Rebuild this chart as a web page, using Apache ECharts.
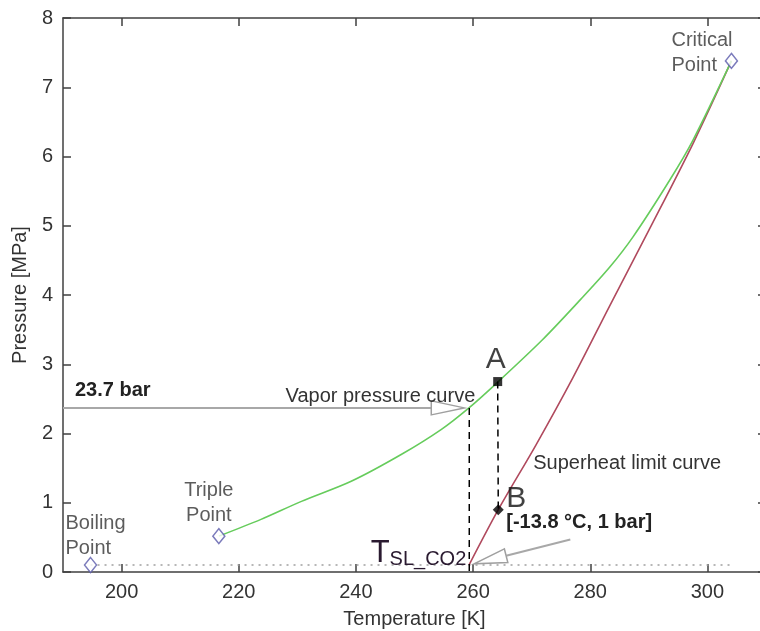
<!DOCTYPE html>
<html>
<head>
<meta charset="utf-8">
<script src="https://cdn.jsdelivr.net/npm/echarts@6/dist/echarts.min.js"></script>
<style>
  html, body { margin: 0; padding: 0; background: #fff; }
  #chart { width: 760px; height: 631px; }
</style>
</head>
<body>
<div id="chart"></div>
<script>
// CO2 phase diagram: vapor pressure curve and superheat limit curve

const xTicks = [200, 220, 240, 260, 280, 300];
const yTicks = [0, 1, 2, 3, 4, 5, 6, 7, 8];

// Vapor pressure curve (triple point -> critical point), T in K, p in MPa
const vaporT = [216.6, 223.8, 230.7, 239.2, 247.8, 254.6, 259.3, 263.8, 271.8, 278.4, 283.3, 287.3, 293.5, 297.5, 304.1];
const vaporP = [0.518, 0.76, 1.02, 1.31, 1.70, 2.06, 2.37, 2.71, 3.35, 3.94, 4.40, 4.84, 5.65, 6.23, 7.38];

// Superheat limit curve
const superheatT = [259.3, 264.3, 270.7, 277.0, 283.3, 290.1, 297.5, 304.1];
const superheatP = [0.10, 0.90, 1.83, 2.80, 3.84, 4.95, 6.18, 7.38];

// Characteristic points
const pointNames = ['Boiling\nPoint', 'Triple\nPoint', 'Critical\nPoint'];
const pointT = [194.7, 216.6, 304.1];
const pointP = [0.101, 0.518, 7.38];

// Expansion path A -> B
const stateA = [264.2, 2.75];
const stateB = [264.3, 0.90];

// Superheat limit temperature at ambient pressure (1 bar) and the vapor pressure there
const tslK = 259.35;
const ambientMPa = 0.1;
const vaporAtTslMPa = 2.37;
const ambientLineEndT = 304.4;

const TEXT = '#333';
const FONT = '"Liberation Sans", Arial, sans-serif';

const tslC = (tslK - 273.15).toFixed(1);
const vaporBarText = (vaporAtTslMPa * 10).toFixed(1) + ' bar';
const tslText = '[' + tslC + ' °C, ' + Math.round(ambientMPa * 10) + ' bar]';

const zip = (a, b) => a.map((v, i) => [v, b[i]]);

// Hollow-headed arrows: [fromT, fromP, toT, toP]
const arrows = [
  [190, vaporAtTslMPa, tslK, vaporAtTslMPa],
  [276.6, 0.47, tslK, ambientMPa]
];

function renderArrow(params, api) {
  const a = api.coord([api.value(0), api.value(1)]);
  const b = api.coord([api.value(2), api.value(3)]);
  const dx = b[0] - a[0], dy = b[1] - a[1];
  const len = Math.hypot(dx, dy);
  const ux = dx / len, uy = dy / len;
  const gap = 5, headLen = 33, halfW = 7;
  const tip = [b[0] - ux * gap, b[1] - uy * gap];
  const base = [tip[0] - ux * headLen, tip[1] - uy * headLen];
  const nx = -uy, ny = ux;
  return {
    type: 'group',
    children: [
      { type: 'line', shape: { x1: a[0], y1: a[1], x2: base[0], y2: base[1] },
        style: { stroke: '#a8a8a8', lineWidth: 2 } },
      { type: 'polygon', shape: { points: [
          [base[0] + nx * halfW, base[1] + ny * halfW], tip,
          [base[0] - nx * halfW, base[1] - ny * halfW]] },
        style: { stroke: '#a0a0a0', lineWidth: 1.5, fill: '#fff' } }
    ]
  };
}

// Free text annotations anchored to data coordinates
const notes = [
  { at: [190, vaporAtTslMPa], dx: 12, dy: -17, text: vaporBarText, align: 'left', bold: true },
  { at: [tslK, vaporAtTslMPa], dx: 6, dy: -11, text: 'Vapor pressure curve', align: 'right' },
  { at: stateB, dx: 35, dy: -46, text: 'Superheat limit curve', align: 'left' },
  { at: [tslK, ambientMPa], dx: 37, dy: -43, text: tslText, align: 'left', bold: true }
];

function renderNote(params, api) {
  const n = notes[params.dataIndex];
  const p = api.coord([api.value(0), api.value(1)]);
  return {
    type: 'text',
    x: p[0] + n.dx, y: p[1] + n.dy,
    style: {
      text: n.text, fill: n.bold ? '#222' : TEXT,
      font: (n.bold ? 'bold ' : '') + '20px ' + FONT,
      align: n.align, verticalAlign: 'middle'
    }
  };
}

function renderTsl(params, api) {
  const p = api.coord([api.value(0), api.value(1)]);
  return {
    type: 'text',
    x: p[0] - 3, y: p[1] + 4,
    style: {
      text: '{t|T}{s|SL_CO2}',
      align: 'right', verticalAlign: 'bottom',
      rich: {
        t: { font: '31px ' + FONT, fill: '#2a1a30', verticalAlign: 'bottom', lineHeight: 31 },
        s: { font: '20px ' + FONT, fill: '#2a1a30', verticalAlign: 'bottom', lineHeight: 23 }
      }
    }
  };
}

const pointLabelPos = [
  { offset: [-25, -29], align: 'left' },
  { offset: [-10, -33], align: 'center' },
  { offset: [-60, -8], align: 'left' }
];

const axisLineStyle = { color: '#404040', width: 1.5 };

const option = {
  animation: false,
  backgroundColor: '#fff',
  grid: { left: 63, top: 18, width: 703, bottom: 59, containLabel: false, outerBoundsMode: 'none' },
  xAxis: [
    {
      type: 'value', min: 190, max: 310, position: 'bottom',
      name: 'Temperature [K]', nameLocation: 'middle', nameGap: 37,
      nameTextStyle: { fontSize: 20, color: TEXT, fontFamily: FONT },
      axisLine: { onZero: false, lineStyle: axisLineStyle },
      axisTick: { inside: true, length: 8, customValues: xTicks, lineStyle: axisLineStyle },
      axisLabel: { customValues: xTicks, fontSize: 20, color: TEXT, fontFamily: FONT, margin: 10 },
      splitLine: { show: false }
    },
    {
      type: 'value', min: 190, max: 310, position: 'top',
      axisLine: { onZero: false, lineStyle: axisLineStyle },
      axisTick: { inside: true, length: 8, customValues: xTicks, lineStyle: axisLineStyle },
      axisLabel: { show: false },
      splitLine: { show: false }
    }
  ],
  yAxis: [
    {
      type: 'value', min: 0, max: 8, interval: 1, position: 'left',
      name: 'Pressure [MPa]', nameLocation: 'middle', nameGap: 24,
      nameTextStyle: { fontSize: 20, color: TEXT, fontFamily: FONT },
      axisLine: { show: true, onZero: false, lineStyle: axisLineStyle },
      axisTick: { show: true, inside: true, length: 8, customValues: yTicks, lineStyle: axisLineStyle },
      axisLabel: { customValues: yTicks, fontSize: 20, color: TEXT, fontFamily: FONT, margin: 10 },
      splitLine: { show: false }
    },
    {
      type: 'value', min: 0, max: 8, interval: 1, position: 'right',
      axisLine: { show: true, onZero: false, lineStyle: axisLineStyle },
      axisTick: { show: true, inside: true, length: 8, customValues: yTicks, lineStyle: axisLineStyle },
      axisLabel: { show: false },
      splitLine: { show: false }
    }
  ],
  series: [
    {
      name: 'ambient', type: 'line', silent: true, showSymbol: false, z: 1,
      data: [[pointT[0], ambientMPa], [ambientLineEndT, ambientMPa]],
      lineStyle: { color: '#a0a0a0', width: 1.5, type: [2, 5] }
    },
    {
      name: 'Superheat limit curve', type: 'line', showSymbol: false, smooth: 0.3, z: 2,
      data: zip(superheatT, superheatP),
      lineStyle: { color: '#b04a5e', width: 1.6 }
    },
    {
      name: 'Vapor pressure curve', type: 'line', showSymbol: false, smooth: 0.3, z: 3,
      data: zip(vaporT, vaporP),
      lineStyle: { color: '#66cc5c', width: 1.6 }
    },
    {
      name: 'tsl drop', type: 'line', showSymbol: false, z: 4,
      data: [[tslK, vaporAtTslMPa], [tslK, 0]],
      lineStyle: { color: '#000', width: 1.5, type: [7, 5] }
    },
    {
      name: 'A-B', type: 'line', showSymbol: false, z: 4,
      data: [stateA, stateB],
      lineStyle: { color: '#000', width: 1.5, type: [7, 5] }
    },
    {
      name: 'arrows', type: 'custom', z: 5, silent: true,
      renderItem: renderArrow, data: arrows
    },
    {
      name: 'points', type: 'scatter', z: 6,
      symbol: 'diamond', symbolSize: [12, 15],
      itemStyle: { color: '#fff', borderColor: '#5a5aaa', borderWidth: 1.5 },
      data: pointT.map((t, i) => ({
        value: [t, pointP[i]],
        label: {
          show: true, formatter: pointNames[i], position: 'inside',
          offset: pointLabelPos[i].offset, align: pointLabelPos[i].align,
          verticalAlign: 'middle', fontSize: 20, lineHeight: 25,
          color: TEXT, fontFamily: FONT
        }
      }))
    },
    {
      name: 'A', type: 'scatter', z: 7, symbol: 'rect', symbolSize: 9,
      itemStyle: { color: '#000' },
      data: [stateA],
      label: { show: true, formatter: 'A', position: 'inside', offset: [-2, -22],
        fontSize: 30, color: '#111', fontFamily: FONT }
    },
    {
      name: 'B', type: 'scatter', z: 7, symbol: 'diamond', symbolSize: 11,
      itemStyle: { color: '#000' },
      data: [stateB],
      label: { show: true, formatter: 'B', position: 'inside', offset: [18, -11],
        fontSize: 30, color: '#111', fontFamily: FONT }
    },
    {
      name: 'notes', type: 'custom', z: 8, silent: true,
      renderItem: renderNote, data: notes.map(n => n.at)
    },
    {
      name: 'tsl label', type: 'custom', z: 8, silent: true,
      renderItem: renderTsl, data: [[tslK, ambientMPa]]
    }
  ]
};

const chart = echarts.init(document.getElementById('chart'), null, { renderer: 'canvas' });
chart.setOption(option);
</script>
</body>
</html>
